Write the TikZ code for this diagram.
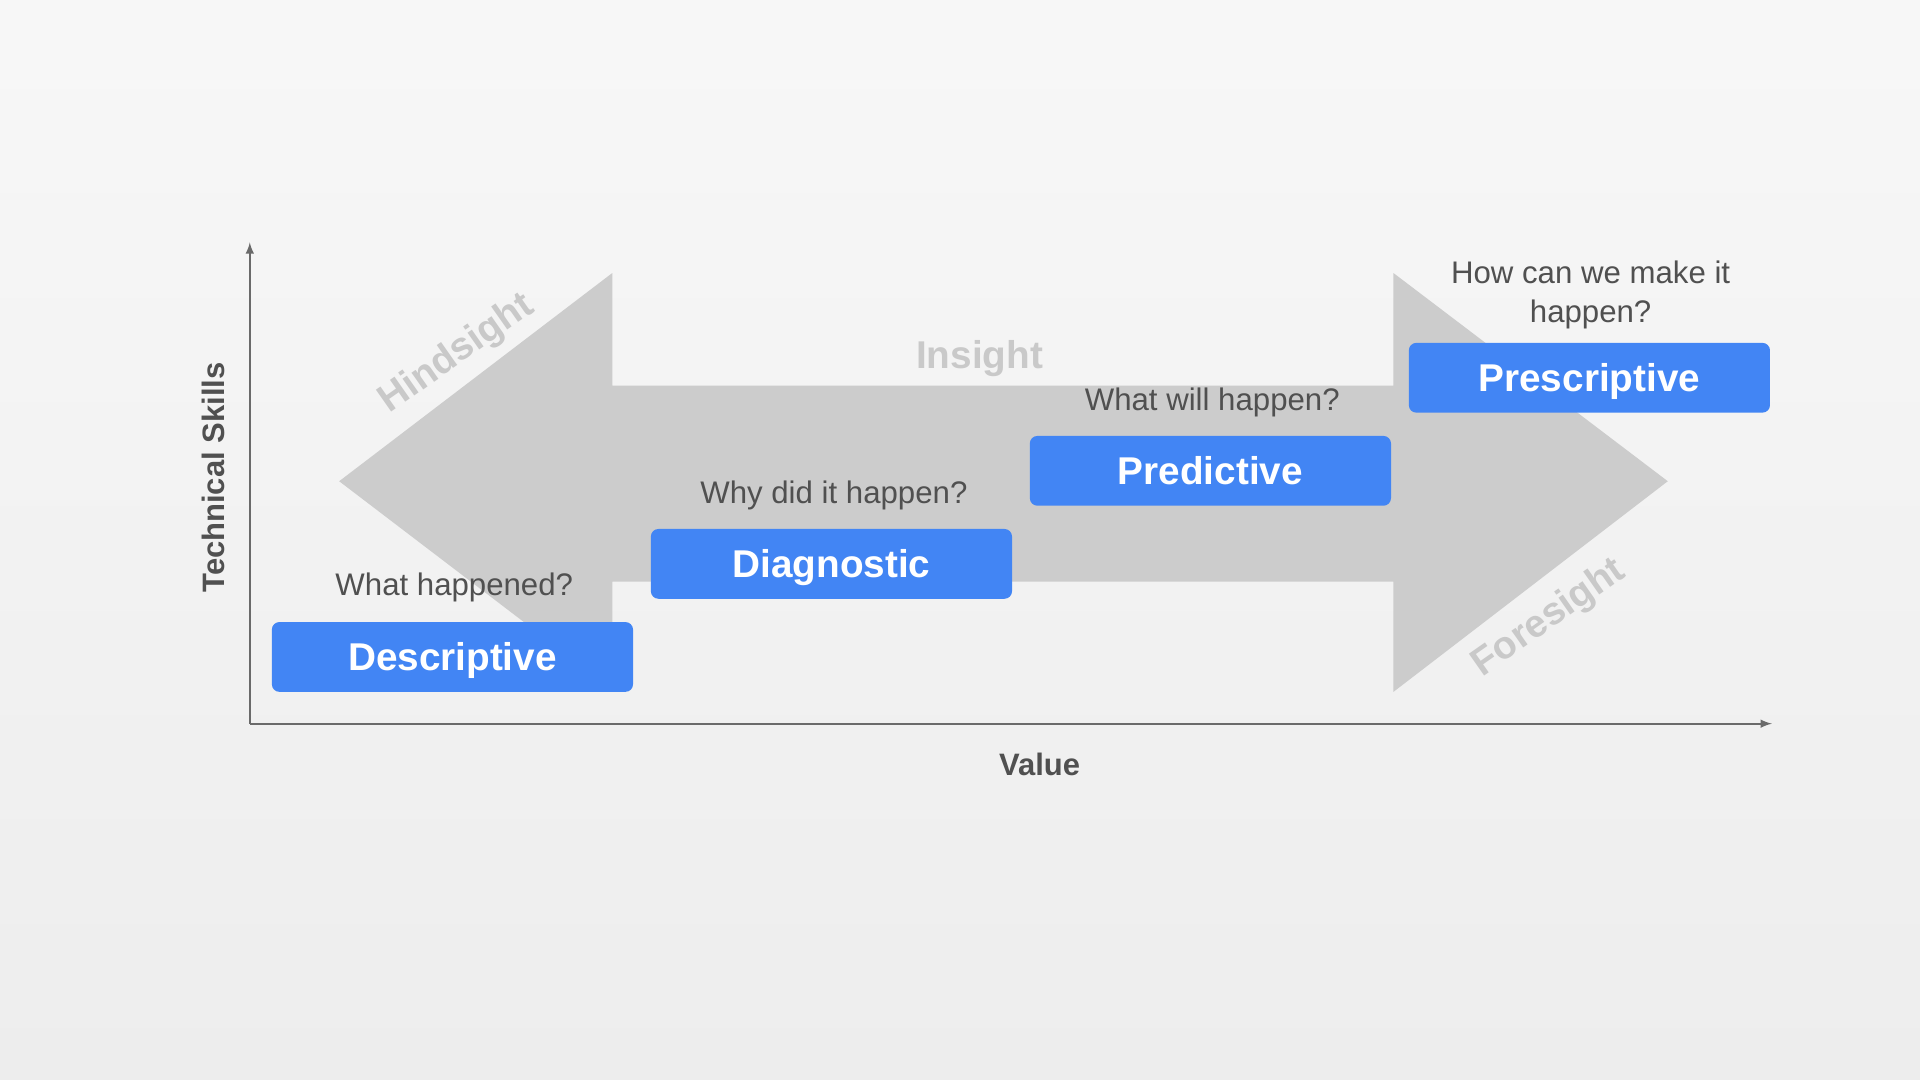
\documentclass[tikz,border=0pt]{standalone}
\usepackage{fontspec}
\setmainfont{Liberation Sans}
\usetikzlibrary{positioning}
\definecolor{boxblue}{HTML}{4285F4}
\definecolor{arrowgray}{HTML}{CCCCCC}
\definecolor{sighttext}{HTML}{C9C9C9}
\definecolor{darktext}{HTML}{505050}
\definecolor{axisgray}{HTML}{6A6A6A}
\definecolor{bglow}{HTML}{EDEDED}
\begin{document}
\begin{tikzpicture}[x=0.02cm,y=-0.02cm,
    stage/.style={fill=boxblue, rounded corners=3.5pt, inner sep=0pt,
      minimum width=5.9cm, minimum height=1.14cm, text=white,
      text height=12.9pt, text depth=0pt,
      font=\fontsize{18}{18}\selectfont\bfseries},
    question/.style={text=darktext, align=center,
      font=\fontsize{14.5}{18.2}\selectfont},
    sight/.style={text=sighttext, font=\fontsize{18}{18}\selectfont\bfseries},
    axislabel/.style={text=darktext, font=\fontsize{14.4}{14.4}\selectfont\bfseries},
    axis/.style={draw=axisgray, line width=0.8pt, -latex}]
  % background
  \shade[top color=white!97!black, bottom color=bglow] (0,0) rectangle (1568,882);

  % big double arrow
  \fill[arrowgray] (277,393) -- (500,223) -- (500,315) -- (1138,315) -- (1138,223)
    -- (1362,393) -- (1138,565) -- (1138,475) -- (500,475) -- (500,563) -- cycle;

  \node[sight, rotate=35] (hind) at (373,289) {Hindsight};
  \node[sight] (ins) at (800,293) {Insight};
  \node[sight, rotate=35] (fore) at (1265,505) {Foresight};

  % axes
  \coordinate (o) at (204,591);
  \coordinate (ytop) at (204,198);
  \coordinate (xend) at (1447,591);
  \draw[axis] (o) -- (ytop);
  \draw[axis] (o) -- (xend);
  \node[axislabel, rotate=90] (skills) at (174,390) {Technical Skills};
  \node[axislabel] (value) at (849,624) {Value};

  % stages
  \node[stage] (desc) at (369.5,536.5) {Descriptive};
  \node[stage] (diag) at (679,460.5) {Diagnostic};
  \node[stage] (pred) at (988.5,384.5) {Predictive};
  \node[stage] (presc) at (1298,308.5) {Prescriptive};

  \node[question] (q1) at (371,480) {What happened?};
  \node[question] (q2) at (681,405) {Why did it happen?};
  \node[question] (q3) at (990,329) {What will happen?};
  \node[question] (q4) at (1299,241) {How can we make it\\happen?};
\end{tikzpicture}
\end{document}
